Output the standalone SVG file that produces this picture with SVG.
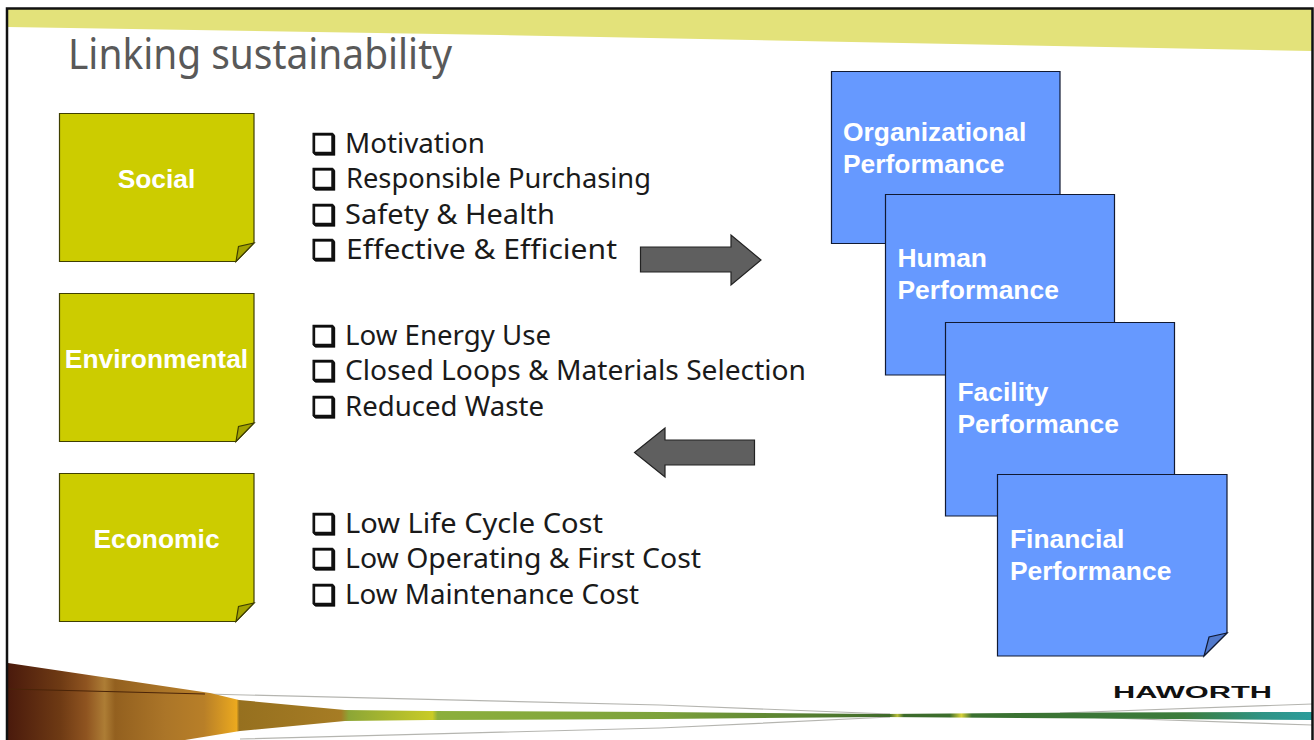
<svg xmlns="http://www.w3.org/2000/svg" width="1314" height="740" viewBox="0 0 1314 740">
<style>
.y{fill:#cccc00;stroke:#3f3f00;stroke-width:1.2}
.yf{fill:#a3a300;stroke:#3f3f00;stroke-width:1.2}
.b{fill:#6699ff;stroke:#111a33;stroke-width:1.2}
.bf{fill:#527acc;stroke:#111a33;stroke-width:1.2}
.n{font-family:"Liberation Sans",Arial,sans-serif;font-weight:700;font-size:26.400px;fill:#fff}
.m{text-anchor:middle}
.t{font-family:"Noto Sans","Open Sans",sans-serif;font-size:27px;fill:#1a1a1a}
.c{font-family:"DejaVu Sans",sans-serif;font-size:27px;fill:#111;stroke:#111;stroke-width:.5px;filter:drop-shadow(1px 1px 0 #000)}
.a{fill:#5f5f5f;stroke:#222;stroke-width:1.2}
.g{fill:none;stroke:#b5b5b0;stroke-width:1.2}
</style>
<defs>
<linearGradient id="band" gradientUnits="userSpaceOnUse" x1="8" y1="0" x2="1314" y2="0">
<stop offset="0" stop-color="#4a1a0c"/>
<stop offset=".04" stop-color="#6e3a14"/>
<stop offset=".06" stop-color="#8f5420"/>
<stop offset=".074" stop-color="#ad7d35"/>
<stop offset=".082" stop-color="#93601f"/>
<stop offset=".12" stop-color="#ab7528"/>
<stop offset=".15" stop-color="#b87f28"/>
<stop offset=".175" stop-color="#eba91f"/>
<stop offset=".177" stop-color="#96701f"/>
<stop offset=".255" stop-color="#a67c24"/>
<stop offset=".261" stop-color="#8ca636"/>
<stop offset=".325" stop-color="#c9cb26"/>
<stop offset=".329" stop-color="#8caf3c"/>
<stop offset=".5" stop-color="#7da23c"/>
<stop offset=".675" stop-color="#3f6a2a"/>
<stop offset=".681" stop-color="#b8bf3c"/>
<stop offset=".686" stop-color="#3c6a2c"/>
<stop offset=".721" stop-color="#3c6e2c"/>
<stop offset=".730" stop-color="#d8d23a"/>
<stop offset=".738" stop-color="#3a7030"/>
<stop offset=".9" stop-color="#3c7c3c"/>
<stop offset=".96" stop-color="#2f9384"/>
<stop offset="1" stop-color="#2b9c9c"/>
</linearGradient>
</defs>
<rect width="1314" height="740" fill="#fff"/>
<path d="M8 9H1312V51L600 37L500 35L8 27Z" fill="#e3e27a"/>
<g id="footer">
<path class="g" d="M205 694L660 705L890 714M240 739L660 728L890 717M1060 713L1312 704M1080 717L1312 725"/>
<path d="M8 663L210 693L239 700L345 710L430 711L660 712L880 714L1100 712.500L1312 712V720L1100 718.500L880 717L660 719L430 720L345 721L240 731L185 740H8Z" fill="url(#band)"/>
<path d="M8 689L205 694" fill="none" stroke="#4a2408" stroke-width="1"/>
</g>
<path d="M7 740V8.500H1312.500V740" fill="none" stroke="#111" stroke-width="2.500"/>
<text id="title" x="68" y="69" textLength="384" lengthAdjust="spacingAndGlyphs" style="font-family:'Noto Sans','Open Sans',sans-serif;font-size:41px;fill:#595959">Linking sustainability</text>

<g id="social">
<path class="y" d="M59.500 113.500H254V243L236 261.500H59.500Z"/><path class="yf" d="M236 261.500L238.500 246.500L254 243Z"/>
<text class="n m" x="156.500" y="188">Social</text>
</g>
<g id="environmental">
<path class="y" d="M59.500 293.500H254V423L236 441.500H59.500Z"/><path class="yf" d="M236 441.500L238.500 426.500L254 423Z"/>
<text class="n m" x="156.500" y="368">Environmental</text>
</g>
<g id="economic">
<path class="y" d="M59.500 473.500H254V603L236 621.500H59.500Z"/><path class="yf" d="M236 621.500L238.500 606.500L254 603Z"/>
<text class="n m" x="156.500" y="548">Economic</text>
</g>

<g id="list-social">
<text class="c" x="311" y="153">❑</text><text class="t" x="345" y="153" textLength="140" lengthAdjust="spacingAndGlyphs">Motivation</text>
<text class="c" x="311" y="188">❑</text><text class="t" x="346" y="188" textLength="305" lengthAdjust="spacingAndGlyphs">Responsible Purchasing</text>
<text class="c" x="311" y="224">❑</text><text class="t" x="345" y="224" textLength="210" lengthAdjust="spacingAndGlyphs">Safety &amp; Health</text>
<text class="c" x="311" y="259">❑</text><text class="t" x="346" y="259" textLength="271" lengthAdjust="spacingAndGlyphs">Effective &amp; Efficient</text>
</g>
<g id="list-environmental">
<text class="c" x="311" y="345">❑</text><text class="t" x="345" y="345" textLength="206" lengthAdjust="spacingAndGlyphs">Low Energy Use</text>
<text class="c" x="311" y="380">❑</text><text class="t" x="345" y="380" textLength="461" lengthAdjust="spacingAndGlyphs">Closed Loops &amp; Materials Selection</text>
<text class="c" x="311" y="416">❑</text><text class="t" x="345" y="416" textLength="199" lengthAdjust="spacingAndGlyphs">Reduced Waste</text>
</g>
<g id="list-economic">
<text class="c" x="311" y="533">❑</text><text class="t" x="345" y="533" textLength="258" lengthAdjust="spacingAndGlyphs">Low Life Cycle Cost</text>
<text class="c" x="311" y="568">❑</text><text class="t" x="345" y="568" textLength="356" lengthAdjust="spacingAndGlyphs">Low Operating &amp; First Cost</text>
<text class="c" x="311" y="604">❑</text><text class="t" x="345" y="604" textLength="294" lengthAdjust="spacingAndGlyphs">Low Maintenance Cost</text>
</g>

<g id="connectors">
<path class="a" d="M640.500 247H731V235L761 260L731 285V272H640.500Z"/>
<path class="a" d="M754.500 440H665V428L634.500 452.500L665 477V465H754.500Z"/>
</g>

<g id="organizational">
<path class="b" d="M831.500 71.500H1060V243.500H831.500Z"/>
<text class="n" x="843" y="140.500">Organizational</text><text class="n" x="843" y="173">Performance</text>
</g>
<g id="human">
<path class="b" d="M885.500 194.500H1114.500V375H885.500Z"/>
<text class="n" x="897.500" y="266.500">Human</text><text class="n" x="897.500" y="299">Performance</text>
</g>
<g id="facility">
<path class="b" d="M945.500 322.500H1174.500V516H945.500Z"/>
<text class="n" x="957.500" y="400.500">Facility</text><text class="n" x="957.500" y="433">Performance</text>
</g>
<g id="financial">
<path class="b" d="M997.500 474.500H1227V633L1204 656H997.500Z"/><path class="bf" d="M1204 656L1209 637L1227 633Z"/>
<text class="n" x="1010" y="547.500">Financial</text><text class="n" x="1010" y="580">Performance</text>
</g>
<text id="logo" x="1113" y="697.500" textLength="159" lengthAdjust="spacingAndGlyphs" style="font-family:'Liberation Sans',sans-serif;font-weight:700;font-size:16.500px;fill:#111">HAWORTH</text>
</svg>
